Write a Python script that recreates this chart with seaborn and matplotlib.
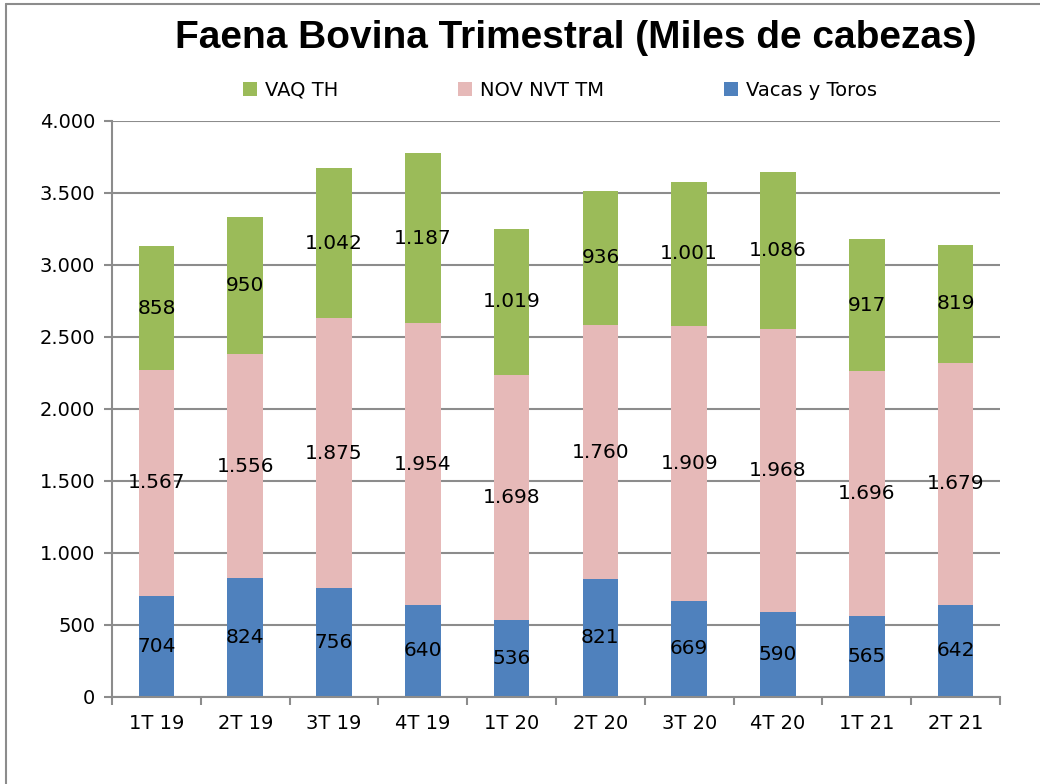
import matplotlib
matplotlib.use("Agg")
import matplotlib.pyplot as plt
import seaborn as sns
import pandas as pd
from matplotlib.ticker import FuncFormatter, FixedLocator
from matplotlib.lines import Line2D
from matplotlib.patches import Patch

categories = ["1T 19", "2T 19", "3T 19", "4T 19", "1T 20", "2T 20", "3T 20", "4T 20", "1T 21", "2T 21"]
vacas_toros = [704, 824, 756, 640, 536, 821, 669, 590, 565, 642]
nov_nvt_tm = [1567, 1556, 1875, 1954, 1698, 1760, 1909, 1968, 1696, 1679]
vaq_th = [858, 950, 1042, 1187, 1019, 936, 1001, 1086, 917, 819]
series_names = ["Vacas y Toros", "NOV NVT TM", "VAQ TH"]
colors = {"Vacas y Toros": "#4F81BD", "NOV NVT TM": "#E6B9B8", "VAQ TH": "#9BBB59"}

sns.set_style("white")
plt.rcParams["font.family"] = ["DejaVu Sans"]
plt.rcParams["text.color"] = "black"
plt.rcParams["xtick.color"] = "black"
plt.rcParams["ytick.color"] = "black"
plt.rcParams["xtick.labelcolor"] = "black"
plt.rcParams["ytick.labelcolor"] = "black"

fig = plt.figure(figsize=(10.4, 7.84), dpi=100)
ax = fig.add_axes([112/1040, 1-697/784, (1000-112)/1040, (697-121)/784])

df = pd.DataFrame({"cat": categories, "Vacas y Toros": vacas_toros,
                   "NOV NVT TM": nov_nvt_tm, "VAQ TH": vaq_th})

def fmt(v):
    return f"{int(v):,}".replace(",", ".")

bottom = [0]*len(categories)
for name in series_names:
    vals = df[name].tolist()
    sns.barplot(x=df["cat"], y=df[name], color=colors[name], width=0.4,
                bottom=bottom, ax=ax, saturation=1, linewidth=0)
    cont = ax.containers[-1]
    ax.bar_label(cont, labels=[fmt(v) for v in vals], label_type="center",
                 fontsize=14.5, color="black")
    bottom = [b + v for b, v in zip(bottom, vals)]

ax.set_ylim(0, 4000)
ax.set_xlim(-0.5, len(categories)-0.5)
ax.yaxis.set_major_locator(FixedLocator(list(range(0, 4001, 500))))
ax.yaxis.set_major_formatter(FuncFormatter(lambda v, p: fmt(v)))
ax.grid(axis="y", color="#8C8C8C", linewidth=1.5)
ax.set_axisbelow(True)
ax.set_xlabel("")
ax.set_ylabel("")
for s in ["top", "right"]:
    ax.spines[s].set_visible(False)
for s in ["left", "bottom"]:
    ax.spines[s].set_color("#8C8C8C")
    ax.spines[s].set_linewidth(1.5)
ax.tick_params(axis="y", which="major", length=6, width=1.5, color="#8C8C8C",
               labelsize=14, labelcolor="black", pad=6, left=True)
ax.tick_params(axis="x", which="major", length=0, labelsize=14, labelcolor="black", pad=12)
ax.xaxis.set_minor_locator(FixedLocator([i - 0.5 for i in range(len(categories)+1)]))
ax.tick_params(axis="x", which="minor", length=6, width=1.5, color="#8C8C8C", bottom=True)

fig.text(576/1040, 1-38/784, "Faena Bovina Trimestral (Miles de cabezas)",
         ha="center", va="center", fontsize=28, fontweight="bold", color="black",
         family=["Liberation Sans", "DejaVu Sans"])

handles = [Patch(facecolor=colors[n], edgecolor="none") for n in ["VAQ TH", "NOV NVT TM", "Vacas y Toros"]]
leg = fig.legend(handles, ["VAQ TH", "NOV NVT TM", "Vacas y Toros"], loc="center",
                 bbox_to_anchor=(560/1040, 1-90/784), ncol=3, frameon=False, fontsize=14,
                 handlelength=0.7, handleheight=0.7, handletextpad=0.4, columnspacing=6.2)
for t in leg.get_texts():
    t.set_color("black")

fig.add_artist(Line2D([6/1040, 6/1040], [0, 1-4/784], color="#8C8C8C", linewidth=1.5,
                      transform=fig.transFigure))
fig.add_artist(Line2D([6/1040, 1], [1-4/784, 1-4/784], color="#8C8C8C", linewidth=1.5,
                      transform=fig.transFigure))

fig.savefig("out.png", dpi=100, facecolor="white")
